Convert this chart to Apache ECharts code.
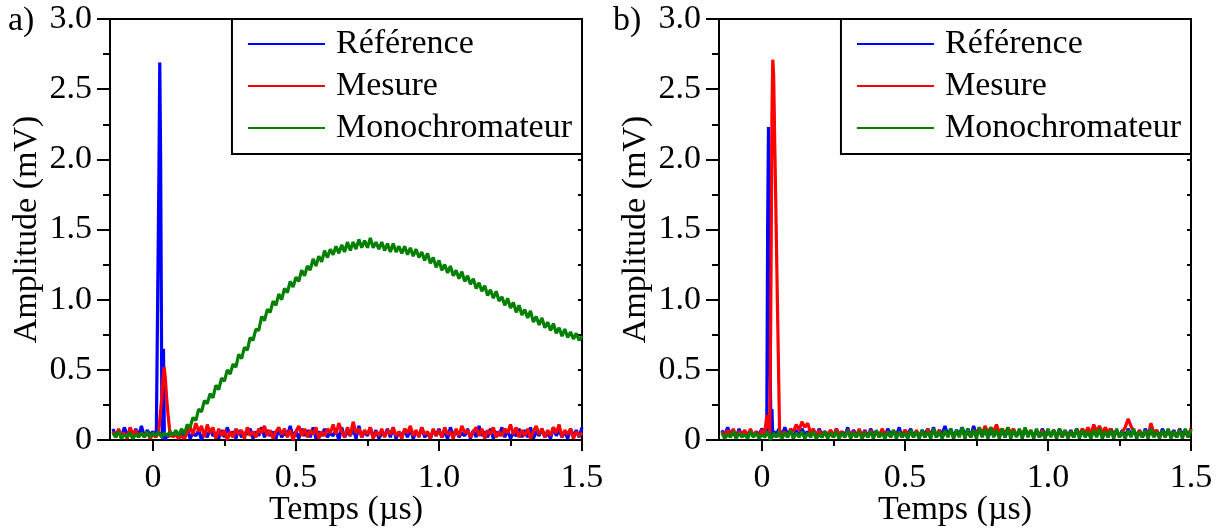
<!DOCTYPE html>
<html><head><meta charset="utf-8">
<script src="https://cdn.jsdelivr.net/npm/echarts@6/dist/echarts.min.js"></script>
<style>html,body{margin:0;padding:0;background:#fff}#c{width:1220px;height:529px}</style>
</head><body><div id="c"></div>
<script>
// ---- sampling grid of the oscilloscope traces (µs)
const T_START = -0.14, T_STEP = 0.01;
const seriesNames = ['Référence', 'Mesure', 'Monochromateur'];
const xMajorTicks = [0, 0.5, 1.0, 1.5];
const xMinorTicks = [0.25, 0.75, 1.25];
const panelLabels = ['a)', 'b)'];

// ---- panel a
const refA = [.08,.03,.07,.02,.09,.04,.06,.01,.08,.03,.10,.02,.07,.04,.06,.02,.05,.03,.07,.02,.06,.03,.05,.04,
.06,.02,.08,.01,.05,.03,.07,.00,.06,.02,
.08,.03,.05,.01,.07,.02,.09,.03,.06,.01,
.07,.02,.05,.04,.08,.01,.06,.03,.09,.02,
.07,.03,.06,.01,.08,.02,.05,.03,.10,.02,
.06,.01,.08,.03,.07,.02,.09,.01,.06,.03,
.08,.02,.05,.03,.07,.00,.09,.02,.06,.03,
.08,.01,.10,.02,.06,.03,.09,.02,.07,.01,
.05,.03,.08,.02,.09,.01,.06,.03,.07,.02,
.08,.01,.06,.03,.09,.02,.05,.01,.07,.03,
.08,.02,.06,.01,.09,.03,.07,.02,.05,.03,
.08,.01,.07,.02,.10,.03,.06,.02,.08,.01,
.06,.03,.09,.02,.07,.01,.05,.03,.08,.02,
.07,.02,.09,.01,.06,.03,.08,.02,.05,.01,
.09,.03,.07,.02,.06,.01,.08,.03,.07,.02,
.09];
const refA_peakT = [0.012,0.017,0.021,0.024,0.027,0.031,0.034,0.037,0.040,0.044,0.048];
const refA_peakV = [0.05,0.06,1.90,2.69,2.00,0.35,0.01,0.65,0.03,0.00,0.04];

const mesA = [.06,.02,.08,.03,.05,.01,.09,.04,.07,.02,.05,.03,.06,.01,.04,.02,.05,.30,.50,.20,.05,.02,.04,.01,
.03,.01,.05,.09,.04,.12,.06,.10,.02,.11,
.05,.09,.01,.08,.03,.07,.00,.06,.02,.08,
.04,.07,.01,.09,.03,.06,.02,.08,.05,.10,
.03,.07,.01,.06,.09,.04,.08,.02,.07,.00,
.06,.10,.03,.08,.02,.07,.04,.09,.01,.06,
.03,.08,.05,.11,.04,.12,.06,.02,.09,.03,
.13,.05,.08,.02,.07,.04,.09,.01,.06,.03,
.08,.02,.07,.04,.09,.03,.06,.01,.08,.05,
.10,.03,.07,.02,.09,.04,.06,.01,.08,.03,
.07,.02,.09,.04,.06,.01,.08,.03,.10,.05,
.07,.02,.06,.09,.03,.08,.01,.07,.04,.09,
.02,.06,.03,.08,.05,.11,.04,.09,.02,.07,
.03,.08,.01,.06,.10,.04,.08,.02,.07,.03,
.09,.05,.11,.02,.07,.04,.08,.01,.06,.03,
.05];
const mesA_peakT = [0.020,0.026,0.031,0.035,0.039,0.043,0.048,0.053,0.058,0.062,0.066];
const mesA_peakV = [0.05,0.04,0.30,0.42,0.52,0.45,0.30,0.18,0.08,0.02,0.05];

const monoA = [.05,.02,.06,.01,.04,.02,.05,.01,.04,.02,.05,.02,.06,.02,.05,.03,.06,.02,.05,.03,.06,.03,.07,.03,
.08,.04,.11,.09,.16,.14,.22,.20,.28,.26,
.33,.30,.39,.36,.44,.42,.50,.47,.54,.52,
.61,.58,.66,.64,.73,.71,.79,.78,.88,.85,
.93,.91,.99,.96,1.04,1.00,1.08,1.05,1.13,1.09,
1.16,1.13,1.21,1.17,1.24,1.21,1.29,1.24,1.31,1.27,
1.35,1.30,1.36,1.32,1.38,1.33,1.39,1.34,1.41,1.35,
1.41,1.36,1.43,1.37,1.42,1.37,1.44,1.37,1.41,1.36,
1.41,1.35,1.40,1.34,1.40,1.34,1.38,1.33,1.38,1.32,
1.37,1.31,1.36,1.30,1.34,1.28,1.33,1.26,1.30,1.23,
1.28,1.21,1.25,1.19,1.24,1.17,1.21,1.15,1.20,1.13,
1.17,1.11,1.15,1.08,1.12,1.06,1.10,1.03,1.07,1.01,
1.06,.99,1.02,.96,1.01,.94,.98,.91,.96,.89,
.93,.87,.92,.84,.88,.82,.87,.80,.84,.78,
.83,.76,.80,.74,.79,.73,.77,.72,.76,.71,
.74];

// ---- panel b
const refB = [.07,.03,.09,.04,.06,.02,.08,.03,.06,.04,
.07,.03,.06,.04,.08,.05,.06,.02,.07,.04,
.08,.03,.09,.04,.06,.02,.07,.03,.08,.04,
.06,.03,.07,.02,.08,.04,.06,.03,.07,.02,
.08,.04,.06,.03,.09,.02,.07,.04,.06,.03,
.07,.02,.08,.04,.06,.03,.07,.02,.08,.04,
.06,.03,.09,.02,.07,.04,.08,.03,.06,.02,
.07,.04,.08,.03,.09,.02,.07,.04,.10,.03,
.08,.02,.07,.04,.09,.03,.08,.02,.10,.04,
.07,.03,.08,.02,.06,.04,.08,.03,.07,.02,
.08,.04,.06,.03,.07,.02,.08,.04,.06,.03,
.07,.02,.08,.04,.06,.03,.07,.02,.08,.04,
.06,.03,.07,.02,.08,.04,.06,.03,.07,.02,
.08,.04,.06,.03,.07,.02,.08,.04,.06,.03,
.07,.02,.08,.04,.06,.03,.07,.02,.08,.04,
.06,.03,.07,.02,.08,.04,.06,.03,.07,.02,
.08,.04,.07,.03,.08];
const refB_peakT = [0.012,0.017,0.020,0.023,0.026,0.029,0.032,0.035,0.038,0.042];
const refB_peakV = [0.06,0.07,1.50,2.23,1.60,0.50,0.01,0.22,0.02,0.06];

const mesB = [.06,.02,.07,.03,.08,.02,.06,.04,.07,.02,
.08,.03,.06,.02,.07,.04,.08,.10,.05,.02,
.04,.03,.06,.02,.08,.06,.11,.07,.13,.09,
.12,.05,.08,.03,.07,.02,.06,.04,.07,.02,
.08,.03,.06,.02,.07,.04,.06,.02,.08,.03,
.06,.02,.07,.03,.06,.02,.08,.04,.06,.02,
.07,.03,.06,.02,.07,.04,.06,.02,.07,.03,
.06,.02,.08,.03,.06,.04,.07,.02,.06,.03,
.07,.02,.06,.04,.07,.03,.06,.02,.07,.04,
.09,.04,.10,.05,.09,.06,.11,.05,.08,.04,
.09,.05,.08,.03,.07,.04,.08,.03,.07,.02,
.06,.03,.07,.02,.06,.04,.07,.03,.06,.02,
.07,.03,.06,.02,.07,.04,.08,.05,.09,.04,
.11,.06,.10,.05,.09,.06,.08,.03,.07,.02,
.06,.09,.15,.10,.06,.03,.07,.02,.06,.03,
.12,.05,.07,.03,.06,.02,.07,.04,.06,.02,
.07,.03,.06,.02,.08];
const mesB_peakT = [0.010,0.014,0.018,0.021,0.024,0.027,0.031,0.035,0.038,0.041,0.045,0.050,0.055,0.059,0.062,0.066];
const mesB_peakV = [0.05,0.12,0.18,0.08,0.14,0.04,0.90,2.30,2.71,2.60,2.10,1.50,0.88,0.40,0.02,0.06];

const monoB = [.05,.01,.04,.02,.06,.01,.05,.02,.04,.01,
.06,.02,.05,.01,.04,.02,.06,.00,.05,.02,
.06,.01,.05,.02,.07,.01,.05,.02,.06,.01,
.05,.02,.06,.01,.04,.02,.06,.01,.05,.02,
.06,.01,.05,.02,.07,.01,.05,.02,.06,.01,
.05,.02,.06,.01,.07,.02,.05,.01,.06,.02,
.07,.01,.06,.02,.05,.01,.07,.02,.06,.01,
.07,.02,.06,.01,.08,.02,.06,.01,.07,.02,
.08,.01,.07,.02,.09,.01,.08,.02,.07,.01,
.09,.02,.08,.01,.09,.02,.07,.01,.08,.02,
.09,.01,.07,.02,.08,.01,.09,.02,.07,.01,
.08,.02,.06,.01,.08,.02,.07,.01,.08,.02,
.07,.01,.06,.02,.08,.01,.07,.02,.06,.01,
.07,.02,.08,.01,.06,.02,.07,.01,.08,.02,
.06,.01,.07,.02,.08,.01,.06,.02,.07,.01,
.08,.02,.06,.01,.07,.02,.08,.01,.06,.02,
.07,.01,.08,.02,.07];

// ---- helpers
function build(values, peakT, peakV) {
  const lo = peakT ? peakT[0] : Infinity, hi = peakT ? peakT[peakT.length - 1] : -Infinity;
  const pts = [];
  values.forEach((v, i) => {
    const t = Math.round((T_START + i * T_STEP) * 1000) / 1000;
    if (t < lo - 1e-9 || t > hi + 1e-9) pts.push([t, v]);
  });
  if (peakT) peakT.forEach((t, i) => pts.push([t, peakV[i]]));
  pts.sort((a, b) => a[0] - b[0]);
  return pts;
}

const FONT = "'Liberation Serif','DejaVu Serif',serif";
const FS = 34;
const colors = ['#0000ff', '#ff0000', '#008000'];
const grids = [
  { left: 110, top: 19, width: 472, height: 421, outerBoundsMode: 'none', containLabel: false },
  { left: 719, top: 19, width: 472, height: 421, outerBoundsMode: 'none', containLabel: false }
];
const fmt = v => (v === 0 ? '0' : v.toFixed(1));
const lineBlack = { color: '#000', width: 2 };

const xAxes = [], yAxes = [], legends = [], graphics = [], series = [];
const panelData = [
  [build(refA, refA_peakT, refA_peakV), build(mesA, mesA_peakT, mesA_peakV), build(monoA)],
  [build(refB, refB_peakT, refB_peakV), build(mesB, mesB_peakT, mesB_peakV), build(monoB)]
];

grids.forEach((g, i) => {
  const xi = xAxes.length, yi = yAxes.length;
  xAxes.push({
    type: 'value', gridIndex: i, position: 'bottom', min: -0.15, max: 1.5,
    axisLine: { show: true, onZero: false, lineStyle: lineBlack },
    axisTick: { show: true, length: 11, customValues: xMajorTicks, lineStyle: lineBlack },
    axisLabel: { customValues: xMajorTicks, margin: 21, color: '#000', fontFamily: FONT, fontSize: FS, formatter: fmt },
    splitLine: { show: false },
    name: 'Temps (µs)', nameLocation: 'middle', nameGap: 53, nameMoveOverlap: false,
    nameTextStyle: { color: '#000', fontFamily: FONT, fontSize: FS }
  });
  xAxes.push({
    type: 'value', gridIndex: i, position: 'bottom', min: -0.15, max: 1.5,
    axisLine: { show: false },
    axisTick: { show: true, length: 6, customValues: xMinorTicks, lineStyle: lineBlack },
    axisLabel: { show: false }, splitLine: { show: false }
  });
  xAxes.push({
    type: 'value', gridIndex: i, position: 'top', min: -0.15, max: 1.5,
    axisLine: { show: true, onZero: false, lineStyle: lineBlack },
    axisTick: { show: false }, axisLabel: { show: false }, splitLine: { show: false }
  });
  yAxes.push({
    type: 'value', gridIndex: i, position: 'left', min: 0, max: 3, interval: 0.5,
    axisLine: { show: true, onZero: false, lineStyle: lineBlack },
    axisTick: { show: true, length: 13, lineStyle: lineBlack },
    minorTick: { show: true, splitNumber: 2, length: 7, lineStyle: lineBlack },
    axisLabel: { margin: 18, color: '#000', fontFamily: FONT, fontSize: FS, formatter: fmt },
    splitLine: { show: false }, minorSplitLine: { show: false },
    name: 'Amplitude (mV)', nameLocation: 'middle', nameGap: 66, nameMoveOverlap: false,
    nameTextStyle: { color: '#000', fontFamily: FONT, fontSize: FS }
  });
  yAxes.push({
    type: 'value', gridIndex: i, position: 'right', min: 0, max: 3, interval: 0.5,
    axisLine: { show: true, onZero: false, lineStyle: lineBlack },
    axisTick: { show: true, inside: true, length: 4, lineStyle: lineBlack },
    minorTick: { show: true, splitNumber: 2, length: 4, lineStyle: lineBlack },
    axisLabel: { show: false }, splitLine: { show: false }, minorSplitLine: { show: false }
  });
  seriesNames.forEach((name, k) => {
    series.push({
      type: 'line', name, xAxisIndex: xi, yAxisIndex: yi,
      data: panelData[i][k], showSymbol: false, symbol: 'none',
      lineStyle: { color: colors[k], width: 3.2 }, itemStyle: { color: colors[k] },
      z: 2 + k, animation: false
    });
  });
  legends.push({
    orient: 'vertical', right: 1220 - (g.left + g.width), top: g.top,
    data: seriesNames, selectedMode: false,
    itemWidth: 77, itemHeight: 14, itemGap: 8,
    padding: [8, 10, 9, 15],
    backgroundColor: '#fff', borderColor: '#000', borderWidth: 2, borderRadius: 0,
    itemStyle: { opacity: 0, borderWidth: 0 },
    textStyle: { color: '#000', fontFamily: FONT, fontSize: FS, lineHeight: 34, padding: [0, 0, 0, 6] },
    lineStyle: { width: 2 }
  });
  graphics.push({
    type: 'text', left: i === 0 ? 8 : 613, top: 4,
    style: { text: panelLabels[i], fill: '#000', font: FS + 'px ' + FONT }
  });
});

const chart = echarts.init(document.getElementById('c'), null, { renderer: 'canvas' });
chart.setOption({
  animation: false,
  backgroundColor: '#fff',
  grid: grids,
  xAxis: xAxes,
  yAxis: yAxes,
  legend: legends,
  graphic: graphics,
  series
});
</script>
</body></html>
